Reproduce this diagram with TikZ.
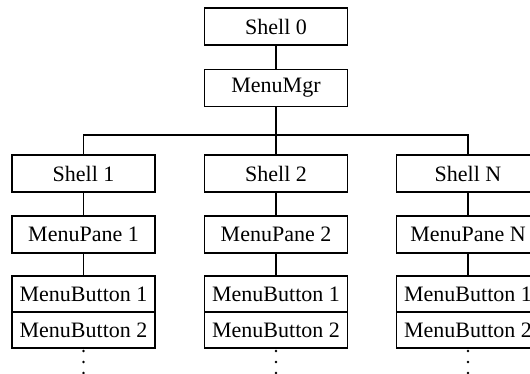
\documentclass[tikz,border=0pt]{standalone}
\usepackage{fontspec}
\setmainfont{Liberation Serif}
\begin{document}
\begin{tikzpicture}[x=0.5pt,y=-0.5pt,
  box/.style={draw,line width=0.6pt,minimum width=71.5pt,minimum height=18.5pt,
    inner sep=0pt,font=\fontsize{11}{13}\selectfont},
  btn/.style={box,minimum height=18pt},
  link/.style={line width=0.6pt},
  dotmark/.style={circle,fill,inner sep=0pt,minimum size=1.4pt}]
\useasboundingbox (0,0) rectangle (530,374);
\clip (0,0) rectangle (530,374);
% top of the hierarchy
\node[box] (s0) at (276,26.5) {Shell 0};
\node[box] (mgr) at (276,88) {MenuMgr};
\coordinate (bus) at (276,135);
% one column per shell
\foreach \n/\x/\t in {1/83.5/1, 2/276/2, N/468/N}{
  \node[box] (s\n) at (\x,173.5) {Shell \t};
  \node[box] (p\n) at (\x,234.5) {MenuPane \t};
  \node[btn] (ba\n) at (\x,294) {MenuButton 1};
  \node[btn] (bb\n) at (\x,330) {MenuButton 2};
  \node[dotmark] (da\n) at (\x,351) {};
  \node[dotmark] (db\n) at (\x,362) {};
  \node[dotmark] (dc\n) at (\x,373) {};
  \draw[link] (s\n) -- (p\n);
  \draw[link] (p\n) -- (ba\n);
}
% connectors from the menu manager
\draw[link] (s0) -- (mgr);
\draw[link] (mgr) -- (s2);
\draw[link] (s1.north) |- (bus) -| (sN.north);
\end{tikzpicture}
\end{document}
